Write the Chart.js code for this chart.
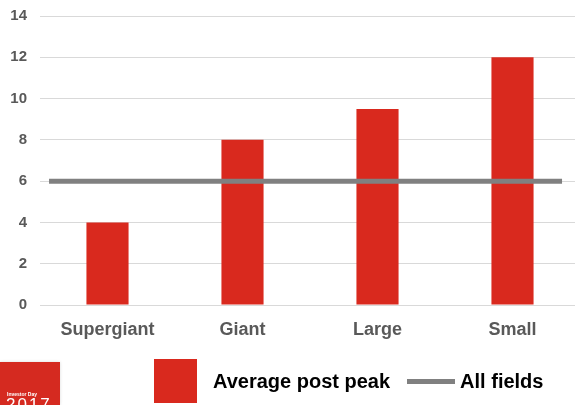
<!DOCTYPE html>
<html>
<head>
<meta charset="utf-8">
<script src="https://cdn.jsdelivr.net/npm/chart.js@4/dist/chart.umd.min.js"></script>
<style>
  html, body { margin: 0; padding: 0; background: #fff; overflow: hidden; }
  body { width: 575px; height: 405px; position: relative; font-family: "Liberation Sans", Arial, sans-serif; }
  #wrap { position: absolute; left: 0; top: -6px; width: 585px; height: 405px; }
  #legend { position: absolute; left: 154px; top: 359px; height: 44px; display: flex; align-items: center; }
  .lg-item { display: flex; align-items: center; font-weight: bold; font-size: 20px; color: #000; }
  .lg-box { width: 43px; height: 44px; margin-right: 16px; }
  .lg-line { width: 48px; height: 5px; margin-left: 17px; margin-right: 5px; }
  #badge { position: absolute; left: 0; top: 362px; width: 60px; height: 43px; background: #d52a20;
           box-shadow: 0 0 3px rgba(0,0,0,0.15); overflow: hidden; color: #fff; }
  #badge .t1 { position: absolute; left: 7px; top: 29px; font-size: 5px; font-weight: bold; white-space: nowrap; }
  #badge .t2 { position: absolute; left: 6px; top: 33px; font-size: 17px; letter-spacing: 2px; white-space: nowrap; }
</style>
</head>
<body>
<div id="wrap"><canvas id="chart" width="585" height="405"></canvas></div>
<div id="legend"></div>
<div id="badge"><span class="t1">Investor Day</span><span class="t2">2017</span></div>
<script>
// Field size classes and average post-peak values
const categories = ['Supergiant', 'Giant', 'Large', 'Small'];
const averagePostPeak = [4, 8, 9.5, 12];
// Reference level for all fields, spanning across the plot (category units)
const allFieldsLevel = 6;
const allFieldsSpan = [-0.433, 3.367];
const yTicks = [0, 2, 4, 6, 8, 10, 12, 14];

const RED = '#d9291e';
const GREY = '#808080';
const LABEL = '#595959';

const chart = new Chart(document.getElementById('chart'), {
  type: 'bar',
  data: {
    labels: categories,
    datasets: [
      {
        type: 'line',
        label: 'All fields',
        xAxisID: 'xl',
        data: allFieldsSpan.map(x => ({ x, y: allFieldsLevel })),
        borderColor: GREY,
        backgroundColor: GREY,
        borderWidth: 5,
        pointRadius: 0,
        borderCapStyle: 'butt',
        order: 0
      },
      {
        label: 'Average post peak',
        xAxisID: 'x',
        data: averagePostPeak,
        backgroundColor: RED,
        borderWidth: 0,
        grouped: false,
        categoryPercentage: 1,
        barPercentage: 0.312,
        order: 1
      }
    ]
  },
  options: {
    responsive: false,
    animation: false,
    layout: { padding: { top: 8, right: 5, left: 0, bottom: 0 } },
    plugins: { legend: { display: false }, tooltip: { enabled: false } },
    scales: {
      x: {
        grid: { display: false, drawTicks: false },
        border: { display: false },
        ticks: { color: LABEL, font: { family: 'Liberation Sans', size: 18, weight: 'bold' }, padding: 14 },
        afterFit: s => { s.height = 94; }
      },
      xl: {
        type: 'linear',
        display: false,
        offset: false,
        min: -0.5,
        max: 3.5
      },
      y: {
        min: 0,
        max: 14,
        afterBuildTicks: s => { s.ticks = yTicks.map(v => ({ value: v })); },
        grid: { color: '#d9d9d9', lineWidth: 1, drawTicks: false },
        border: { display: false },
        ticks: { color: LABEL, font: { family: 'Liberation Sans', size: 15, weight: 'bold' }, padding: 13 },
        afterFit: s => { s.width = 40; }
      }
    }
  }
});

// Legend built from the chart's datasets
const legend = document.getElementById('legend');
[1, 0].forEach(i => {
  const ds = chart.data.datasets[i];
  const item = document.createElement('div');
  item.className = 'lg-item';
  const mark = document.createElement('span');
  mark.className = ds.type === 'line' ? 'lg-line' : 'lg-box';
  mark.style.background = ds.type === 'line' ? ds.borderColor : ds.backgroundColor;
  item.appendChild(mark);
  item.appendChild(document.createTextNode(ds.label));
  legend.appendChild(item);
});
</script>
</body>
</html>
